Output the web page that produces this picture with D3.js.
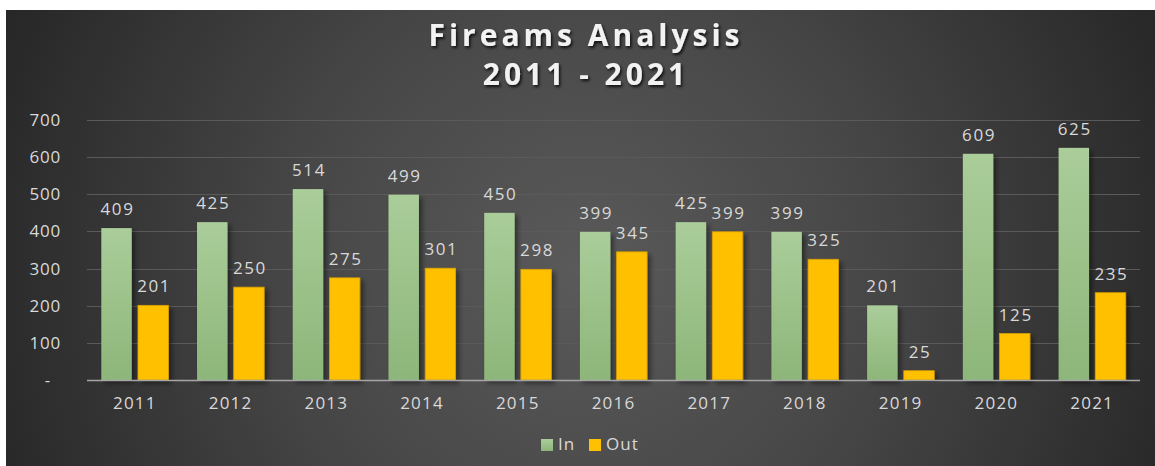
<!DOCTYPE html>
<html>
<head>
<meta charset="utf-8">
<script src="https://cdn.jsdelivr.net/npm/d3@7"></script>
<style>
  html, body { margin: 0; padding: 0; background: #ffffff; }
  svg { display: block; }
  text { font-family: "Open Sans", "Noto Sans", sans-serif; }
</style>
</head>
<body>
<svg id="chart" width="1155" height="466"></svg>
<script>
// Firearms counts per year
const years = ["2011", "2012", "2013", "2014", "2015", "2016", "2017", "2018", "2019", "2020", "2021"];
const inValues = [409, 425, 514, 499, 450, 399, 425, 399, 201, 609, 625];
const outValues = [201, 250, 275, 301, 298, 345, 399, 325, 25, 125, 235];
const seriesNames = ["In", "Out"];
const yTicks = [0, 100, 200, 300, 400, 500, 600, 700];
const titleLines = ["Fireams Analysis", "2011 - 2021"];

const frame = { x: 6, y: 10, w: 1149, h: 456 };
const plot = { left: 87, right: 1140, top: 120, bottom: 380 };

const svg = d3.select("#chart");
const defs = svg.append("defs");

// background: radial glow, lighter in the middle
const bg = defs.append("radialGradient")
  .attr("id", "bgGrad")
  .attr("gradientUnits", "userSpaceOnUse")
  .attr("cx", 585).attr("cy", 270).attr("r", 640);
bg.append("stop").attr("offset", "0").attr("stop-color", "#5a5a5a");
bg.append("stop").attr("offset", "0.45").attr("stop-color", "#474747");
bg.append("stop").attr("offset", "1").attr("stop-color", "#262626");

// green bar fill, light at top, darker at base
const gIn = defs.append("linearGradient")
  .attr("id", "inGrad").attr("x1", 0).attr("y1", 0).attr("x2", 0).attr("y2", 1);
gIn.append("stop").attr("offset", "0").attr("stop-color", "#aacd99");
gIn.append("stop").attr("offset", "1").attr("stop-color", "#8db67a");

// soft drop shadow for bars
const shadow = defs.append("filter").attr("id", "barShadow")
  .attr("x", "-30%").attr("y", "-10%").attr("width", "170%").attr("height", "130%");
shadow.append("feDropShadow")
  .attr("dx", 3).attr("dy", 3).attr("stdDeviation", 2.5)
  .attr("flood-color", "#000").attr("flood-opacity", 0.45);

// title shadow
const tShadow = defs.append("filter").attr("id", "titleShadow")
  .attr("x", "-10%").attr("y", "-30%").attr("width", "120%").attr("height", "170%");
tShadow.append("feDropShadow")
  .attr("dx", 1.5).attr("dy", 2).attr("stdDeviation", 1.5)
  .attr("flood-color", "#000").attr("flood-opacity", 0.8);

svg.append("rect")
  .attr("x", frame.x).attr("y", frame.y)
  .attr("width", frame.w).attr("height", frame.h)
  .attr("fill", "url(#bgGrad)");

// scales
const x0 = d3.scaleBand().domain(years).range([plot.left, plot.right]).padding(0);
const x1 = d3.scaleBand().domain(seriesNames).range([0, x0.bandwidth()])
  .paddingInner(0.17).paddingOuter(0.39);
const y = d3.scaleLinear().domain([0, 700]).range([plot.bottom, plot.top]);

// gridlines
svg.append("g")
  .selectAll("line")
  .data(yTicks.filter(d => d > 0))
  .join("line")
  .attr("x1", plot.left).attr("x2", plot.right)
  .attr("y1", d => Math.round(y(d)) + 0.5).attr("y2", d => Math.round(y(d)) + 0.5)
  .attr("stroke", "#5a5a5a").attr("stroke-width", 1.2);

// y axis labels
const yAxis = svg.append("g")
  .attr("transform", `translate(${plot.left - 26},0)`)
  .call(d3.axisLeft(y).tickValues(yTicks).tickSize(0).tickPadding(0)
    .tickFormat(d => d === 0 ? "-" : d3.format("d")(d)));
yAxis.select(".domain").remove();
yAxis.selectAll("text")
  .attr("fill", "#d9d9d9")
  .style("font-size", "17px")
  .style("letter-spacing", "0.8px")
  .attr("dx", d => d === 0 ? -10 : 0);

// bars
const groups = svg.append("g")
  .selectAll("g")
  .data(years.map((yr, i) => ({ yr, vals: [inValues[i], outValues[i]] })))
  .join("g")
  .attr("transform", d => `translate(${x0(d.yr)},0)`);

groups.selectAll("rect")
  .data(d => d.vals.map((v, k) => ({ key: seriesNames[k], v })))
  .join("rect")
  .attr("x", d => x1(d.key))
  .attr("y", d => y(d.v))
  .attr("width", x1.bandwidth())
  .attr("height", d => y(0) - y(d.v))
  .attr("fill", d => d.key === "In" ? "url(#inGrad)" : "#ffc000")
  .attr("stroke", d => d.key === "In" ? "none" : "#d9a000")
  .attr("stroke-width", 0.8)
  .attr("filter", "url(#barShadow)");

// value labels above bars
groups.selectAll("text")
  .data(d => d.vals.map((v, k) => ({ key: seriesNames[k], v })))
  .join("text")
  .attr("x", d => x1(d.key) + x1.bandwidth() / 2 + 1)
  .attr("y", d => y(d.v) - 13)
  .attr("text-anchor", "middle")
  .attr("fill", "#d9d9d9")
  .style("font-size", "17px")
  .style("letter-spacing", "1.6px")
  .text(d => d.v);

// category axis
svg.append("line")
  .attr("x1", plot.left).attr("x2", plot.right)
  .attr("y1", plot.bottom + 0.5).attr("y2", plot.bottom + 0.5)
  .attr("stroke", "#a6a6a6").attr("stroke-width", 1.6);

const xAxis = svg.append("g")
  .attr("transform", `translate(0,${plot.bottom})`)
  .call(d3.axisBottom(x0).tickSize(0).tickPadding(17));
xAxis.select(".domain").remove();
xAxis.selectAll("text")
  .attr("fill", "#d9d9d9")
  .style("font-size", "17px")
  .style("letter-spacing", "1.2px");

// title
const title = svg.append("text")
  .attr("text-anchor", "middle")
  .attr("fill", "#f2f2f2")
  .attr("filter", "url(#titleShadow)")
  .style("font-size", "30px")
  .style("font-weight", "700")
  .style("letter-spacing", "4px");
title.selectAll("tspan")
  .data(titleLines)
  .join("tspan")
  .attr("x", 586)
  .attr("y", (d, i) => 46 + i * 39)
  .text(d => d);

// legend
const legendColors = { In: "url(#inGrad)", Out: "#ffc000" };
const legendX = { In: 541, Out: 589 };
const legend = svg.append("g");
seriesNames.forEach(name => {
  legend.append("rect")
    .attr("x", legendX[name]).attr("y", 439)
    .attr("width", 12).attr("height", 12)
    .attr("fill", legendColors[name]);
  legend.append("text")
    .attr("x", legendX[name] + 17).attr("y", 450)
    .attr("fill", "#d9d9d9")
    .style("font-size", "17px")
    .style("letter-spacing", "1px")
    .text(name);
});
</script>
</body>
</html>
